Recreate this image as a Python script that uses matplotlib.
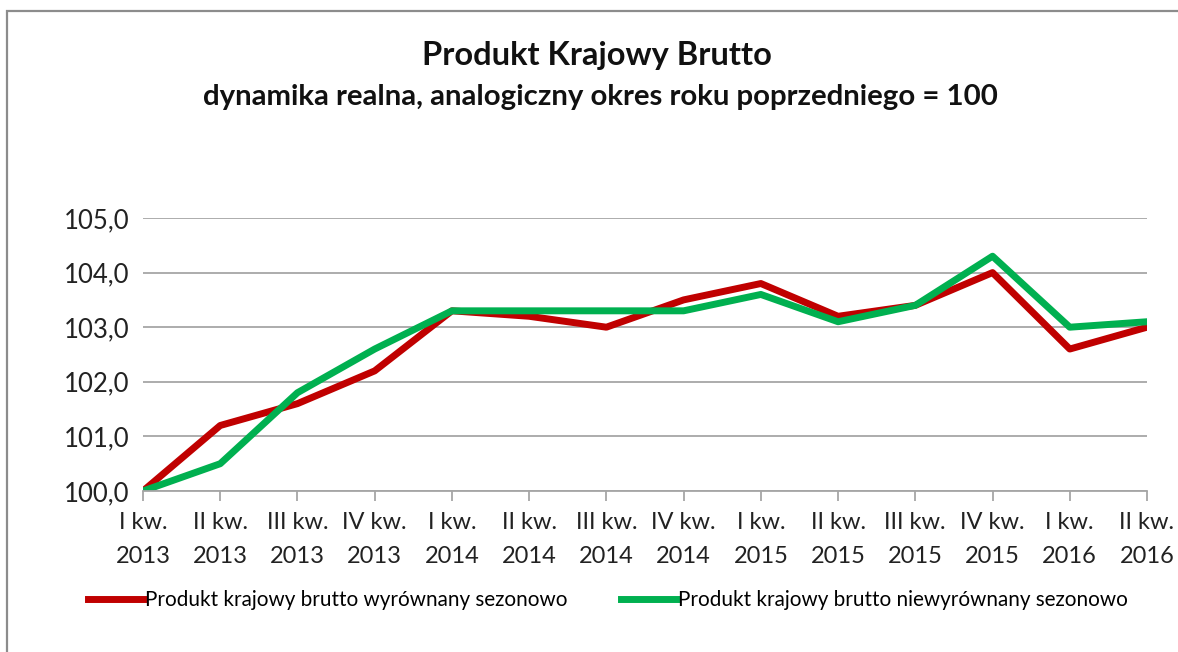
import matplotlib.pyplot as plt
from matplotlib.patches import Rectangle

plt.rcParams['font.family'] = ['Lato', 'DejaVu Sans']

quarters = ['I kw.\n2013', 'II kw.\n2013', 'III kw.\n2013', 'IV kw.\n2013',
            'I kw.\n2014', 'II kw.\n2014', 'III kw.\n2014', 'IV kw.\n2014',
            'I kw.\n2015', 'II kw.\n2015', 'III kw.\n2015', 'IV kw.\n2015',
            'I kw.\n2016', 'II kw.\n2016']
sa_values = [100.0, 101.2, 101.6, 102.2, 103.3, 103.2, 103.0, 103.5,
             103.8, 103.2, 103.4, 104.0, 102.6, 103.0]
nsa_values = [100.0, 100.5, 101.8, 102.6, 103.3, 103.3, 103.3, 103.3,
              103.6, 103.1, 103.4, 104.3, 103.0, 103.1]
y_ticks = [100, 101, 102, 103, 104, 105]

W, H = 1178, 652
fig = plt.figure(figsize=(W / 100, H / 100), dpi=100)

# chart frame (cut off on the right and bottom in the original)
fig.patches.append(Rectangle((7 / W, -0.1), 1.2, 1 - 11 / H + 0.1,
                             transform=fig.transFigure, fill=False,
                             edgecolor='#8c8c8c', linewidth=1.6))

ax = fig.add_axes([143 / W, 1 - 491 / H, (1147 - 143) / W, (491 - 218) / H])
x = list(range(len(quarters)))
ax.plot(x, sa_values, color='#C00000', linewidth=5,
        label='Produkt krajowy brutto wyrównany sezonowo')
ax.plot(x, nsa_values, color='#00B050', linewidth=5,
        label='Produkt krajowy brutto niewyrównany sezonowo')

ax.set_xlim(0, len(quarters) - 1)
ax.set_ylim(100, 105)
ax.set_yticks(y_ticks)
ax.set_yticklabels([f'{v:.1f}'.replace('.', ',') for v in y_ticks])
ax.set_xticks(x)
ax.set_xticklabels(quarters, linespacing=1.8)
ax.grid(axis='y', color='#a6a6a6', linewidth=1.3)
ax.set_axisbelow(True)
for s in ['top', 'right', 'left']:
    ax.spines[s].set_visible(False)
ax.spines['bottom'].set_color('#a6a6a6')
ax.spines['bottom'].set_linewidth(1.3)
ax.tick_params(axis='y', length=0, pad=10, labelsize=18.5, labelcolor='#222222')
ax.tick_params(axis='x', length=7, width=1.3, color='#a6a6a6', pad=8,
               labelsize=17, labelcolor='#222222')

fig.text(597 / W, 1 - 55 / H, 'Produkt Krajowy Brutto', ha='center',
         va='center', fontsize=23.5, fontweight='bold', color='#111111')
fig.text(600 / W, 1 - 97 / H,
         'dynamika realna, analogiczny okres roku poprzedniego = 100',
         ha='center', va='center', fontsize=21.2, fontweight='bold',
         color='#111111')

fig.legend(loc='center left', bbox_to_anchor=(80 / W, 1 - 600 / H), ncol=2,
           frameon=False, fontsize=14.9, handlelength=2.65, handletextpad=0.1,
           columnspacing=2.6, borderaxespad=0)

fig.savefig('out.png', dpi=100)
